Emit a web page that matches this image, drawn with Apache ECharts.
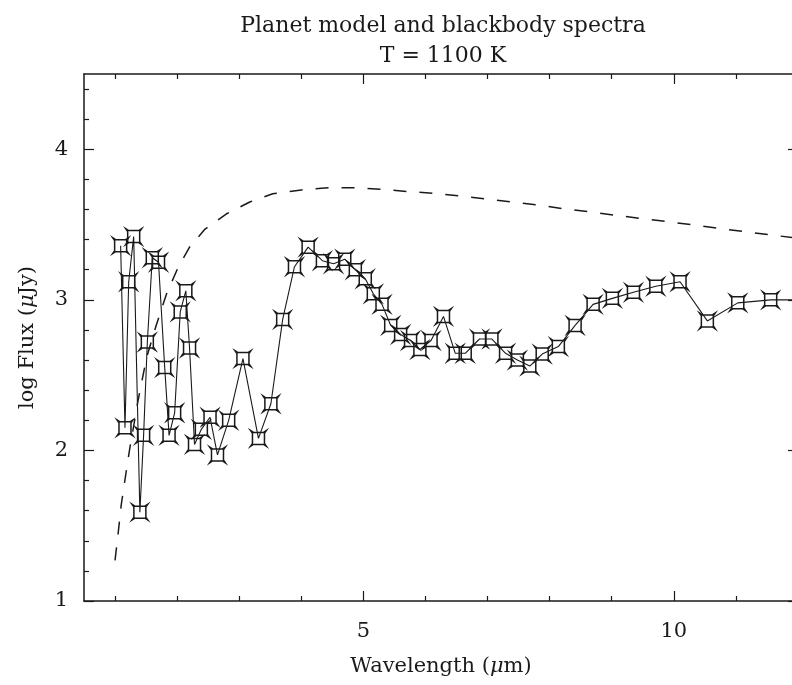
<!DOCTYPE html>
<html>
<head>
<meta charset="utf-8">
<script src="https://cdn.jsdelivr.net/npm/echarts@6/dist/echarts.min.js"></script>
<style>
  html, body { margin: 0; padding: 0; background: #fff; }
  #chart { width: 792px; height: 685px; }
</style>
</head>
<body>
<div id="chart"></div>
<script>
// model spectrum (points with markers)
var modelX = [1.09, 1.16, 1.22, 1.30, 1.40, 1.46, 1.52, 1.60, 1.70, 1.80, 1.87, 1.96, 2.05, 2.14, 2.20,
  2.28, 2.39, 2.53, 2.65, 2.83, 3.06, 3.31, 3.51, 3.70, 3.89, 4.11, 4.34, 4.52, 4.70, 4.87, 5.03, 5.16,
  5.30, 5.44, 5.60, 5.76, 5.91, 6.09, 6.29, 6.48, 6.64, 6.87, 7.07, 7.29, 7.48, 7.68, 7.88, 8.14, 8.41,
  8.70, 9.01, 9.35, 9.71, 10.10, 10.54, 11.03, 11.56, 12.10];
var modelY = [3.36, 2.15, 3.12, 3.42, 1.59, 2.10, 2.72, 3.28, 3.25, 2.55, 2.10, 2.25, 2.92, 3.06, 2.68,
  2.04, 2.14, 2.22, 1.97, 2.20, 2.61, 2.08, 2.31, 2.87, 3.22, 3.35, 3.26, 3.24, 3.27, 3.20, 3.14, 3.04,
  2.97, 2.83, 2.77, 2.73, 2.67, 2.73, 2.89, 2.645, 2.645, 2.74, 2.74, 2.645, 2.60, 2.56, 2.64, 2.69, 2.83,
  2.97, 3.01, 3.05, 3.09, 3.12, 2.86, 2.98, 3.00, 3.00];

// blackbody curve (dashed)
var bbX = [1.00, 1.05, 1.10, 1.18, 1.24, 1.37, 1.51, 1.67, 1.83, 2.02, 2.20, 2.45, 2.79, 3.17, 3.54, 4.00,
  4.43, 4.86, 5.27, 5.70, 6.13, 6.55, 6.97, 7.39, 7.82, 8.23, 8.65, 9.06, 9.47, 9.89, 10.32, 10.73, 11.15,
  11.58, 12.00];
var bbY = [1.27, 1.45, 1.64, 1.86, 2.02, 2.33, 2.62, 2.84, 3.04, 3.22, 3.35, 3.47, 3.57, 3.65, 3.705, 3.73,
  3.744, 3.745, 3.735, 3.72, 3.707, 3.69, 3.67, 3.65, 3.63, 3.605, 3.585, 3.562, 3.54, 3.52, 3.497, 3.475, 3.452,
  3.43, 3.41];

// ticks
var xMajorTicks = [5, 10];
var xMinorTicks = [1, 2, 3, 4, 6, 7, 8, 9, 11, 12];
var yMajorTicks = [1, 2, 3, 4];
var yMinorTicks = [1.2, 1.4, 1.6, 1.8, 2.2, 2.4, 2.6, 2.8, 3.2, 3.4, 3.6, 3.8, 4.2, 4.4];

var FONT = 'DejaVu Serif';
var INK = '#1a1a1a';

function pairs(xs, ys) {
  var out = [];
  for (var i = 0; i < xs.length; i++) out.push([xs[i], ys[i]]);
  return out;
}

// one axis, either the labelled one with big ticks or an overlay with small ticks
function xAx(pos, ticks, len, withLine, withLabel) {
  return {
    type: 'value', position: pos, min: 0.5, max: 12,
    axisLine: { show: withLine, onZero: false, lineStyle: { color: INK, width: 1.5 } },
    axisTick: { show: true, inside: true, length: len, customValues: ticks, lineStyle: { color: INK, width: 1.2 } },
    axisLabel: { show: withLabel, customValues: ticks, margin: 20, color: INK, fontFamily: FONT, fontSize: 21 },
    splitLine: { show: false }
  };
}
function yAx(pos, ticks, len, withLine, withLabel) {
  return {
    type: 'value', position: pos, min: 1, max: 4.5,
    axisLine: { show: withLine, onZero: false, lineStyle: { color: INK, width: 1.5 } },
    axisTick: { show: true, inside: true, length: len, customValues: ticks, lineStyle: { color: INK, width: 1.2 } },
    axisLabel: { show: withLabel, customValues: ticks, margin: 16, color: INK, fontFamily: FONT, fontSize: 21 },
    splitLine: { show: false }
  };
}

var nameStyle = {
  color: INK, fontFamily: FONT, fontSize: 21,
  rich: { mu: { color: INK, fontFamily: FONT, fontSize: 21, fontStyle: 'italic' } }
};

var xBottom = xAx('bottom', xMajorTicks, 10, true, true);
xBottom.name = 'Wavelength ({mu|\u03bc}m)';
xBottom.nameLocation = 'middle';
xBottom.nameGap = 55;
xBottom.nameTextStyle = nameStyle;

var yLeft = yAx('left', yMajorTicks, 10, true, true);
yLeft.name = 'log Flux ({mu|\u03bc}Jy)';
yLeft.nameLocation = 'middle';
yLeft.nameGap = 46;
yLeft.nameTextStyle = nameStyle;

// square box with little flared corners, like the plot's point marker
var markerPath = 'path://M0,0 L3,2 L13,2 L16,0 L14,3 L14,13 L16,16 L13,14 L3,14 L0,16 L2,13 L2,3 Z';

var myChart = echarts.init(document.getElementById('chart'), null, { renderer: 'canvas' });

var option = {
  backgroundColor: '#fff',
  animation: false,
  title: {
    text: 'Planet model and blackbody spectra\nT = 1100 K',
    left: 438, top: 6, textAlign: 'center',
    textStyle: { color: INK, fontFamily: FONT, fontSize: 22, fontWeight: 'normal', lineHeight: 30 }
  },
  // right border sits just past the canvas edge, as in the source image
  grid: { left: 84, width: 714, top: 74, bottom: 84, containLabel: false, outerBoundsMode: 'none' },
  xAxis: [
    xBottom,
    xAx('bottom', xMinorTicks, 5, false, false),
    xAx('top', xMajorTicks, 10, true, false),
    xAx('top', xMinorTicks, 5, false, false)
  ],
  yAxis: [
    yLeft,
    yAx('left', yMinorTicks, 5, false, false),
    yAx('right', yMajorTicks, 10, true, false),
    yAx('right', yMinorTicks, 5, false, false)
  ],
  series: [
    {
      name: 'blackbody',
      type: 'line',
      xAxisIndex: 0, yAxisIndex: 0,
      showSymbol: false,
      symbol: 'none',
      lineStyle: { color: INK, width: 1.5, type: [13, 13] },
      data: pairs(bbX, bbY)
    },
    {
      name: 'model',
      type: 'line',
      xAxisIndex: 0, yAxisIndex: 0,
      symbol: markerPath,
      symbolSize: 16,
      clip: true,
      itemStyle: { color: 'rgba(0,0,0,0)', borderColor: INK, borderWidth: 1.5 },
      lineStyle: { color: INK, width: 1.1 },
      data: pairs(modelX, modelY)
    }
  ]
};

myChart.setOption(option);
</script>
</body>
</html>
